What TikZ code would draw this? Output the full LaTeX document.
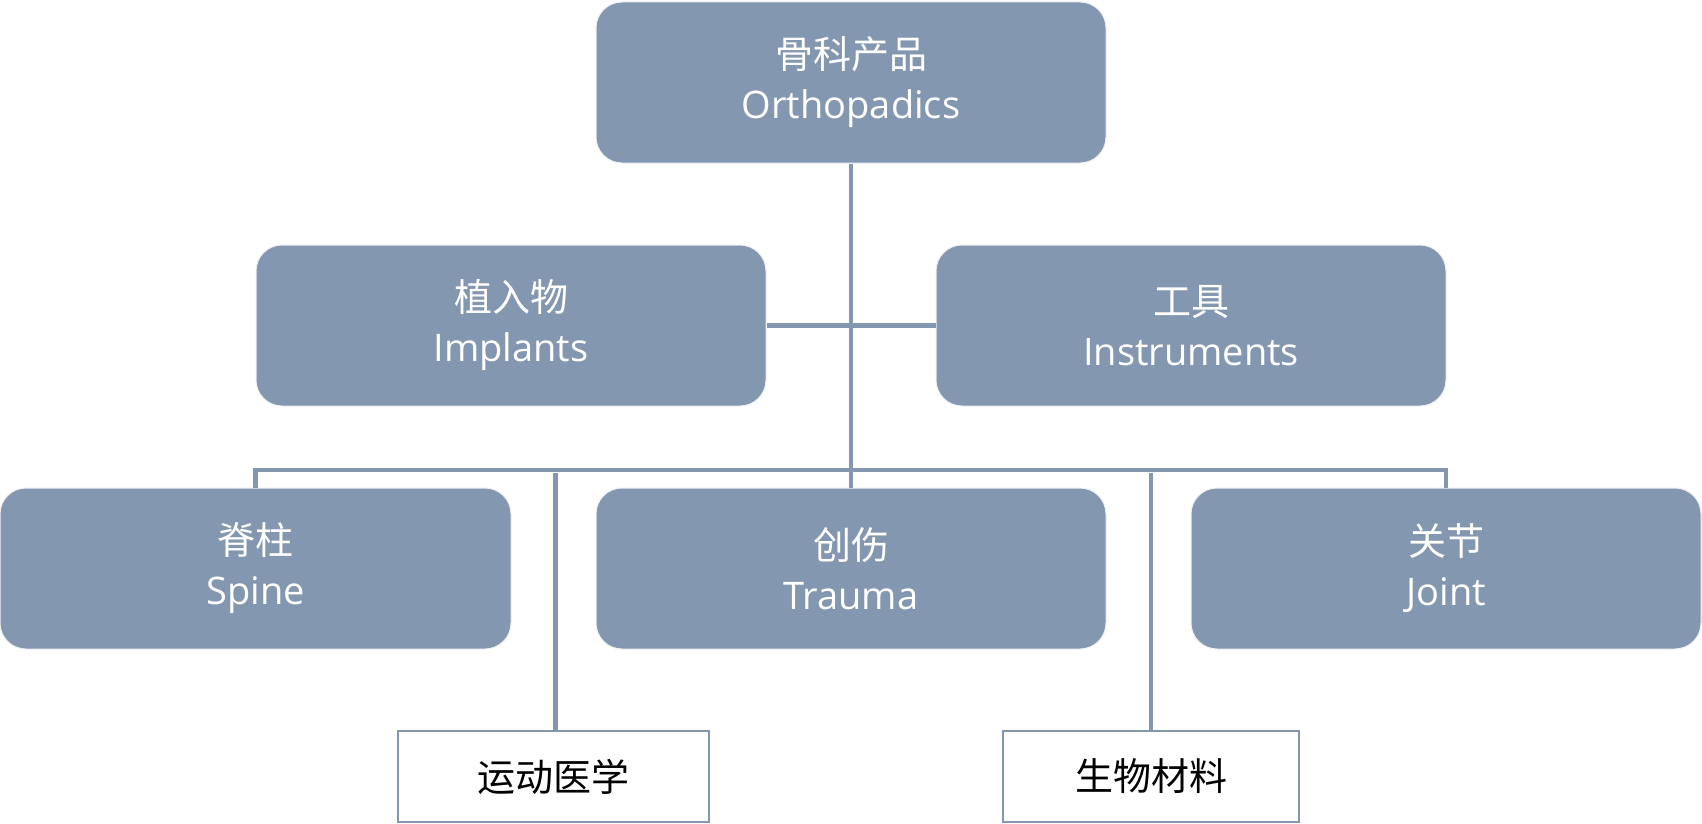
\documentclass[tikz,border=0pt]{standalone}
\usepackage{fontspec}
\setmainfont{Open Sans}
\newfontfamily\cjk{Noto Sans CJK SC}
\definecolor{boxblue}{HTML}{8497B0}
\begin{document}
\begin{tikzpicture}[x=1pt,y=-1pt,
  bluebox/.style={rectangle, rounded corners=26pt, fill=boxblue, draw=white!85!boxblue, line width=1pt,
    minimum width=510pt, minimum height=161pt, inner sep=0pt, align=center, text=white,
    font=\fontsize{38}{50}\selectfont},
  whitebox/.style={rectangle, fill=white, draw=boxblue, line width=2.8pt, minimum height=91pt,
    inner sep=0pt, align=center, text=black, font=\cjk\fontsize{38}{44}\selectfont},
  conn/.style={draw=boxblue, line width=4.3pt}]
\useasboundingbox (0,0) rectangle (1702,824);
\coordinate (busL) at (255.5,470);
\coordinate (busR) at (1446,470);
\coordinate (busSL) at (555.5,473);
\coordinate (busSR) at (1151,473);
\node[bluebox] (top) at (851,82.5) {{\cjk 骨科产品}\\Orthopadics};
\node[bluebox] (impl) at (511,325.5) {{\cjk 植入物}\\Implants};
\node[bluebox] (inst) at (1191,325.5) {{\cjk 工具}\\Instruments};
\node[bluebox, minimum width=511pt] (spine) at (255.5,568.5) {{\cjk 脊柱}\\Spine};
\node[bluebox] (trauma) at (851,568.5) {{\cjk 创伤}\\Trauma};
\node[bluebox] (joint) at (1446,568.5) {{\cjk 关节}\\Joint};
\node[whitebox, minimum width=311pt] (sport) at (553.5,776.5) {运动医学};
\node[whitebox, minimum width=296pt] (bio) at (1151,776.5) {生物材料};
\draw[conn] (top.south) -- (trauma.north);
\draw[conn] (impl.east) -- (inst.west);
\draw[conn] (spine.north) |- (busL) -- (busR) -| (joint.north);
\draw[conn] (busSL) -- (busSL |- sport.north);
\draw[conn] (busSR) -- (busSR |- bio.north);
\end{tikzpicture}
\end{document}
